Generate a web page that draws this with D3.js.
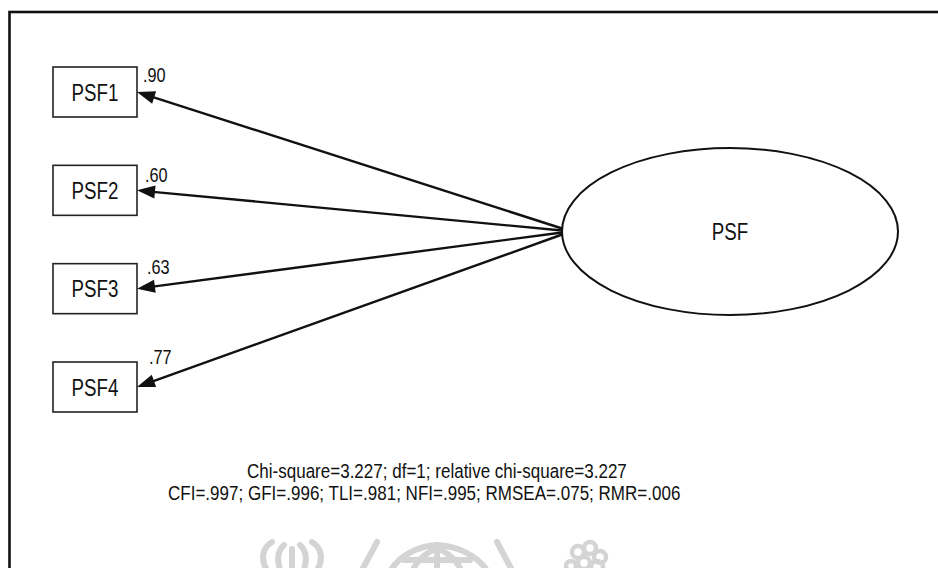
<!DOCTYPE html>
<html>
<head>
<meta charset="utf-8">
<script src="https://cdn.jsdelivr.net/npm/d3@7"></script>
<style>
  html, body { margin: 0; padding: 0; background: #fff; }
  svg { display: block; }
  text { font-family: "Liberation Sans", Arial, sans-serif; fill: #111; }
</style>
</head>
<body>
<svg id="chart" width="938" height="568"></svg>
<script>
// Measurement model: one latent factor with four observed indicators
const indicators = ["PSF1", "PSF2", "PSF3", "PSF4"];
const loadings = [0.90, 0.60, 0.63, 0.77];
const latentName = "PSF";
const fitLines = [
  "Chi-square=3.227; df=1; relative chi-square=3.227",
  "CFI=.997; GFI=.996; TLI=.981; NFI=.995; RMSEA=.075; RMR=.006"
];

const W = 938, H = 568;
const svg = d3.select("#chart");
const narrow = 0.815;               // horizontal squeeze for the condensed face
const fmt = v => d3.format(".2f")(v).replace(/^0/, "");

// outer frame (runs past the right and bottom edges)
svg.append("rect")
  .attr("x", 9.5).attr("y", 12)
  .attr("width", W + 40).attr("height", H + 40)
  .attr("fill", "none").attr("stroke", "#111").attr("stroke-width", 2.6);

// layout
const box = { x: 53, w: 84, h: 50 };
const yScale = d3.scalePoint().domain(indicators).range([92, 387]);
const ell = { cx: 730, cy: 231.5, rx: 168, ry: 83.5 };

// faint watermark emblem along the bottom edge
const wm = svg.append("g").attr("fill", "none").attr("stroke", "#d4d4d4")
  .attr("stroke-width", 6).attr("stroke-linecap", "round");
// left emblem
wm.append("path").attr("d", "M268,572 C260,560 262,548 272,542");
wm.append("path").attr("d", "M316,572 C324,560 322,548 312,542");
wm.append("path").attr("d", "M281,572 C276,560 278,550 284,545");
wm.append("path").attr("d", "M303,572 C308,560 306,550 300,545");
wm.append("path").attr("d", "M292,572 L292,549");
// middle globe
wm.append("path").attr("d", "M361,572 L377,542");
wm.append("path").attr("d", "M497,542 L513,572");
wm.append("path").attr("d", "M390,572 C398,556 418,546 437,545 C458,546 478,556 488,572");
wm.append("path").attr("d", "M437,545 L437,572");
wm.append("path").attr("d", "M437,548 C425,553 416,562 412,572");
wm.append("path").attr("d", "M437,548 C449,553 458,562 462,572");
wm.append("path").attr("d", "M404,560 L470,560");
// right cluster
[[578, 552, 6], [590, 548, 6], [600, 557, 6], [584, 563, 6], [597, 567, 6], [571, 566, 5]].forEach(c => {
  wm.append("circle").attr("cx", c[0]).attr("cy", c[1]).attr("r", c[2]).attr("stroke-width", 4.5);
});

// latent factor ellipse
svg.append("ellipse")
  .attr("cx", ell.cx).attr("cy", ell.cy)
  .attr("rx", ell.rx).attr("ry", ell.ry)
  .attr("fill", "#fff").attr("stroke", "#111").attr("stroke-width", 2);

svg.append("g")
  .attr("transform", `translate(${ell.cx},${ell.cy + 8.5}) scale(${narrow},1)`)
  .append("text")
  .attr("text-anchor", "middle")
  .attr("font-size", 23)
  .text(latentName);

// factor-loading arrows: from the left side of the ellipse to each indicator
const headLen = 18, headHalf = 6.5;
const arrows = svg.append("g");
indicators.forEach((name, i) => {
  const sy = ell.cy + (i - 1.5) * 2;
  const sx = ell.cx - ell.rx * Math.sqrt(1 - Math.pow((sy - ell.cy) / ell.ry, 2));
  const tx = box.x + box.w, ty = yScale(name);
  const dx = tx - sx, dy = ty - sy, len = Math.hypot(dx, dy);
  const ux = dx / len, uy = dy / len;
  const bx = tx - ux * headLen, by = ty - uy * headLen;
  arrows.append("line")
    .attr("x1", sx).attr("y1", sy).attr("x2", bx + ux * 2).attr("y2", by + uy * 2)
    .attr("stroke", "#111").attr("stroke-width", 2.4);
  arrows.append("path")
    .attr("d", `M${tx},${ty} L${bx - uy * headHalf},${by + ux * headHalf} L${bx + uy * headHalf},${by - ux * headHalf} Z`)
    .attr("fill", "#111");
});

// indicator boxes
const boxes = svg.append("g").selectAll("g").data(indicators).join("g");
boxes.append("rect")
  .attr("x", box.x).attr("y", d => yScale(d) - box.h / 2)
  .attr("width", box.w).attr("height", box.h)
  .attr("fill", "#fff").attr("stroke", "#222").attr("stroke-width", 1.6);
boxes.append("g")
  .attr("transform", d => `translate(${box.x + box.w / 2},${yScale(d) + 8.5}) scale(${narrow},1)`)
  .append("text")
  .attr("text-anchor", "middle")
  .attr("font-size", 23)
  .text(d => d);

// loading labels near the arrow heads
const labelNudge = [[6, -10], [8, -8], [10, -15], [12, -23]];
svg.append("g").selectAll("g").data(loadings).join("g")
  .attr("transform", (d, i) => `translate(${box.x + box.w + labelNudge[i][0]},${yScale(indicators[i]) + labelNudge[i][1]}) scale(${narrow},1)`)
  .append("text")
  .attr("font-size", 20)
  .text(d => fmt(d));

// model fit summary
const fitPos = [[247, 477.5], [168, 499.5]];
const fitScale = [0.873, 0.873];
svg.append("g").selectAll("g").data(fitLines).join("g")
  .attr("transform", (d, i) => `translate(${fitPos[i][0]},${fitPos[i][1]}) scale(${fitScale[i]},1)`)
  .append("text")
  .attr("font-size", 19.5)
  .text(d => d);
</script>
</body>
</html>
